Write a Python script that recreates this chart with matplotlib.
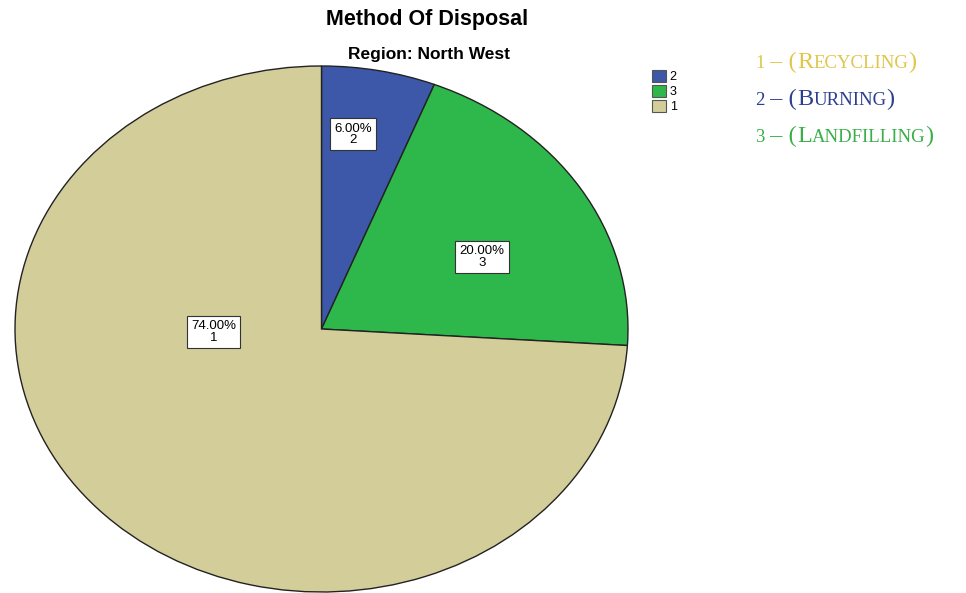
import matplotlib
matplotlib.use("Agg")
import matplotlib.pyplot as plt
from matplotlib.offsetbox import TextArea, HPacker, AnchoredOffsetbox
from matplotlib.patches import Patch

# data
codes = ["2", "3", "1"]
shares = [6.0, 20.0, 74.0]
slice_colors = ["#3d58a8", "#2eb74a", "#d3cd9a"]
# key text on the right: (number, big letter, small-caps rest, colour)
key_lines = [
    ("1", "R", "ECYCLING", "#e0c64a"),
    ("2", "B", "URNING", "#2b3f8f"),
    ("3", "L", "ANDFILLING", "#3aae4a"),
]

fig = plt.figure(figsize=(9.66, 5.93), dpi=100)
W, H = 966, 593

# axes placed so the pie fills the stretched ellipse
ax = fig.add_axes([15 / W, 1 - 592 / H, 613 / W, 526 / H])
wedges, texts, autotexts = ax.pie(
    shares, colors=slice_colors, startangle=90, counterclock=False,
    autopct=lambda p: "{:.2f}%".format(p),
    wedgeprops=dict(edgecolor="#222222", linewidth=1.0),
)
ax.set_xlim(-1, 1)
ax.set_ylim(-1, 1)
ax.set_aspect("auto")
ax.axis("off")

# SPSS style label boxes, moved to where the reference puts them
label_pos = [(0.104, 0.740), (0.524, 0.274), (-0.352, -0.011)]
for t, code, pos in zip(autotexts, codes, label_pos):
    t.set_text(t.get_text() + "\n" + code)
    t.set_position(pos)
    t.set_fontsize(9.5)
    t.set_linespacing(0.95)
    t.set_family("Liberation Sans")
    t.set_bbox(dict(facecolor="white", edgecolor="#333333", linewidth=0.8, pad=3))

fig.text(427 / W, 1 - 19 / H, "Method Of Disposal", ha="center", va="center",
         fontsize=15.5, fontweight="bold", family="Liberation Sans")
fig.text(429 / W, 1 - 54 / H, "Region: North West", ha="center", va="center",
         fontsize=12.5, fontweight="bold", family="Liberation Sans")

handles = [Patch(facecolor=c, edgecolor="#555555", linewidth=0.8) for c in slice_colors]
fig.legend(handles, codes, loc="upper left", bbox_to_anchor=(646 / W, 1 - 64 / H),
           frameon=False, handlelength=1.1, handleheight=1.1,
           handletextpad=0.3, labelspacing=0.12, borderpad=0,
           prop=dict(family="Liberation Sans", size=9))

# small caps built from two font sizes
big, small = 17.5, 13.5
for i, (num, first, rest, col) in enumerate(key_lines):
    parts = [
        TextArea(num, textprops=dict(color=col, size=small, family="Liberation Serif")),
        TextArea(" \u2013 (", textprops=dict(color=col, size=big, family="Liberation Serif")),
        TextArea(first, textprops=dict(color=col, size=big, family="Liberation Serif")),
        TextArea(rest, textprops=dict(color=col, size=small, family="Liberation Serif")),
        TextArea(")", textprops=dict(color=col, size=big, family="Liberation Serif")),
    ]
    box = HPacker(children=parts, align="baseline", pad=0, sep=0)
    anchored = AnchoredOffsetbox(loc="lower left", child=box, pad=0, borderpad=0,
                                 frameon=False,
                                 bbox_to_anchor=(755 / W, 1 - (73 + i * 37) / H),
                                 bbox_transform=fig.transFigure)
    fig.add_artist(anchored)

fig.savefig("out.png", dpi=100)
